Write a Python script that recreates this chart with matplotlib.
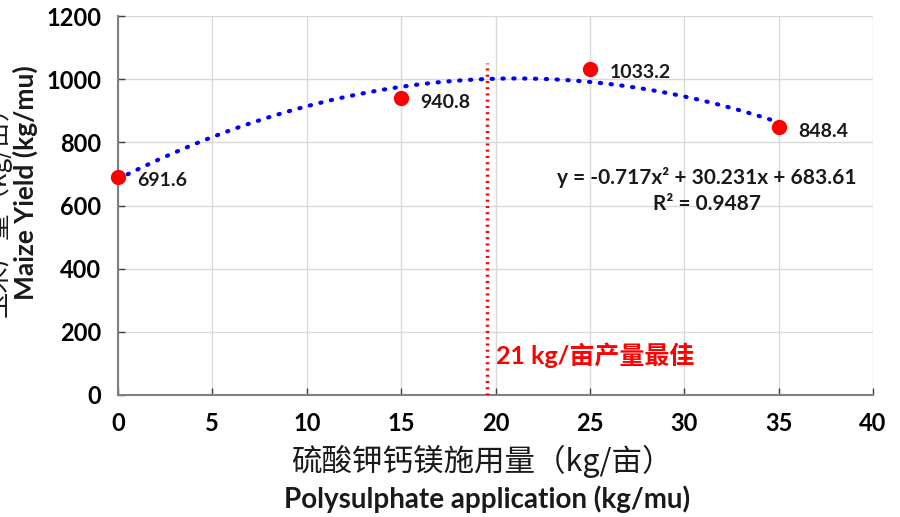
import numpy as np
import matplotlib
matplotlib.use("Agg")
import matplotlib.pyplot as plt

plt.rcParams['font.family'] = ['Lato', 'Noto Sans CJK SC', 'DejaVu Sans']

rates = [0, 15, 25, 35]
yields = [691.6, 940.8, 1033.2, 848.4]
labels = ["691.6", "940.8", "1033.2", "848.4"]
coef = [-0.717, 30.231, 683.61]
optimum_x = 19.55
x_ticks = [0, 5, 10, 15, 20, 25, 30, 35, 40]
y_ticks = [0, 200, 400, 600, 800, 1000, 1200]

fig = plt.figure(figsize=(9, 5.17), dpi=100)
ax = fig.add_axes([118/900, 1-395/517, (873-118)/900, (395-16)/517])

ax.set_xlim(0, 40)
ax.set_ylim(0, 1200)
ax.set_xticks(x_ticks)
ax.set_yticks(y_ticks)
ax.grid(True, color='#d9d9d9', lw=1)
ax.set_axisbelow(True)
for s in ['top', 'right']:
    ax.spines[s].set_visible(False)
for s in ['left', 'bottom']:
    ax.spines[s].set_color('#808080')
    ax.spines[s].set_linewidth(1.5)
ax.tick_params(direction='in', length=5, color='#404040', width=1,
               labelsize=17, pad=12)
for t in ax.get_xticklabels() + ax.get_yticklabels():
    t.set_fontweight('bold')

xs = np.linspace(0, 35, 200)
ys = np.polyval(coef, xs)
ax.plot(xs, ys, color='#0000ff', lw=3, linestyle=(0, (0.3, 2.3)),
        dash_capstyle='round', zorder=3)

ax.plot(rates, yields, 'o', color='#ff0000', markersize=10, zorder=4, clip_on=False)
for x, y, l in zip(rates, yields, labels):
    ax.annotate(l, (x, y), xytext=(14, -3), textcoords='offset points',
                fontsize=14, fontweight='bold', color='#1a1a1a', va='center')

ax.plot([optimum_x, optimum_x], [0, 1050], color='#ff0000', lw=2.5,
        linestyle=(0, (0.6, 1.2)), zorder=3)
ax.text(optimum_x + 0.5, 127, "21 kg/亩产量最佳", color='#ff0000', fontsize=18,
        fontweight='bold', va='center', ha='left')

ax.text(31.2, 690, "y = -0.717x² + 30.231x + 683.61", fontsize=15,
        fontweight='bold', ha='center', va='center', color='#1a1a1a')
ax.text(31.2, 605, "R² = 0.9487", fontsize=15, fontweight='bold',
        ha='center', va='center', color='#1a1a1a')

fig.text(25/900, 1-183/517, "Maize Yield (kg/mu)", rotation=90, fontsize=19,
         fontweight='bold', ha='center', va='center', color='#1a1a1a')
fig.text(-3/900, 1-205/517, "玉米产量（kg/亩）", rotation=90, fontsize=19,
         ha='center', va='center', color='#1a1a1a',
         family=['Noto Sans CJK SC', 'DejaVu Sans'])

fig.text(482/900, 1-461/517, "硫酸钾钙镁施用量（kg/亩）", fontsize=22,
         ha='center', va='center', color='#1a1a1a',
         family=['Noto Sans CJK SC', 'DejaVu Sans'])
fig.text(487/900, 1-499/517, "Polysulphate application (kg/mu)", fontsize=20,
         fontweight='bold', ha='center', va='center', color='#1a1a1a')

fig.savefig("out.png", dpi=100)
